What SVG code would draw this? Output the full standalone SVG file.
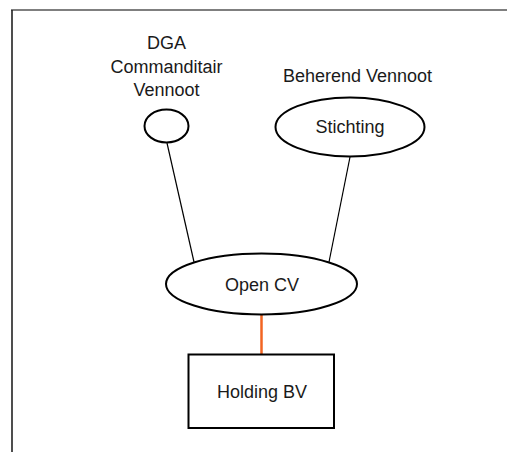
<svg xmlns="http://www.w3.org/2000/svg" width="507" height="452" viewBox="0 0 507 452">
<style>
.shape{fill:#fff;stroke:#000;stroke-width:2}
.lbl{font-family:"Liberation Sans",Arial,sans-serif;font-size:18px;fill:#1a1a1a;text-anchor:middle}
.link{stroke:#000;stroke-width:1.2;fill:none}
.own{stroke:#F26522;stroke-width:2.5;fill:none}
</style>
<rect width="507" height="452" fill="#fff"/>
<g id="frame">
<line x1="11" y1="10" x2="507" y2="10" stroke="#555" stroke-width="1.6"/>
<line x1="12" y1="10" x2="12" y2="452" stroke="#222" stroke-width="1.6"/>
</g>
<g id="connectors">
<line class="link" x1="167" y1="143" x2="194" y2="262"/>
<line class="link" x1="350" y1="157" x2="329" y2="262"/>
<line class="own" x1="261.5" y1="315" x2="261.5" y2="354"/>
</g>
<g id="dga">
<ellipse class="shape" cx="166.5" cy="126" rx="22" ry="16.5"/>
<text class="lbl" x="166.5" y="49">DGA</text>
<text class="lbl" x="166.5" y="72.5" font-size="16.5">Commanditair</text>
<text class="lbl" x="166.5" y="96">Vennoot</text>
</g>
<g id="stichting">
<ellipse class="shape" cx="350" cy="127" rx="74.5" ry="29.5"/>
<text class="lbl" x="357.5" y="81.5">Beherend Vennoot</text>
<text class="lbl" x="350" y="133">Stichting</text>
</g>
<g id="opencv">
<ellipse class="shape" cx="261.5" cy="284" rx="95.5" ry="30.5"/>
<text class="lbl" x="262" y="291">Open CV</text>
</g>
<g id="holding">
<rect class="shape" x="188.5" y="354.5" width="145.5" height="73.5"/>
<text class="lbl" x="262" y="397.5">Holding BV</text>
</g>
</svg>
